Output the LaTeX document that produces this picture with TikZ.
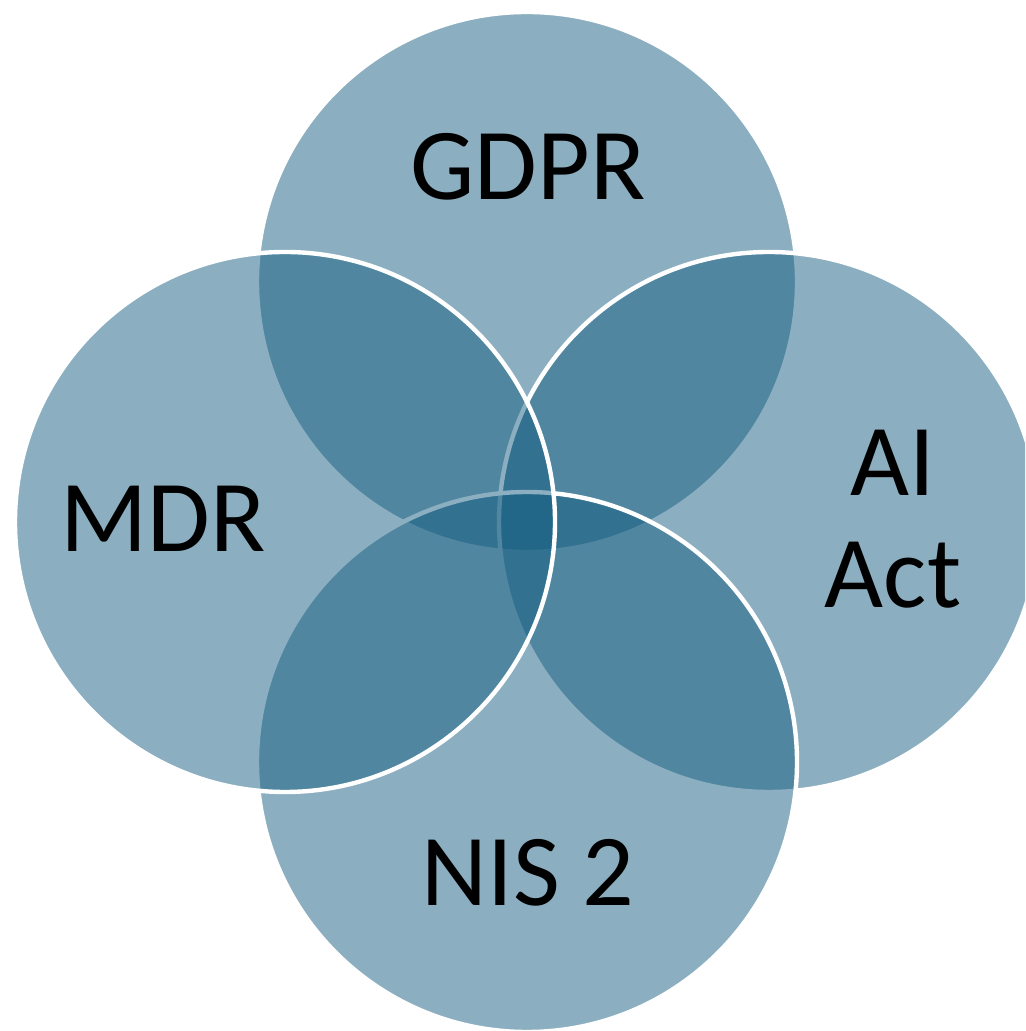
\documentclass[tikz,border=0pt]{standalone}
\usepackage{fontspec}
\setmainfont{Carlito}
\usetikzlibrary{positioning}
\definecolor{vennblue}{RGB}{19,92,127}
\tikzset{
  vset/.style={circle, draw=white, line width=1.25pt, fill=vennblue, fill opacity=0.49,
               minimum size=5.4cm, inner sep=0pt},
  vlabel/.style={font=\fontsize{29}{32}\selectfont, text=black, inner sep=0pt, anchor=base},
}
\begin{document}
\begin{tikzpicture}
  \useasboundingbox (0,0) rectangle (10.25,10.31);
  \clip (0,0) rectangle (10.25,10.31);
  % the sets, drawn in this order so later outlines lie on top
  \foreach \name/\x/\y in {gdpr/5.27/7.49, aiact/7.69/5.09, nis/5.27/2.69, mdr/2.85/5.09} {
    \node[vset] (\name) at (\x,\y) {};
  }
  \node[vlabel] (gdprtxt) at (5.28,8.31) {GDPR};
  \node[vlabel] (mdrtxt) at (1.63,4.79) {MDR};
  % base of a two-line node is the last line
  \node[vlabel, align=center] (aiacttxt) at (8.93,4.23) {AI\\Act};
  \node[vlabel] (nistxt) at (5.28,1.25) {NIS 2};
\end{tikzpicture}
\end{document}
